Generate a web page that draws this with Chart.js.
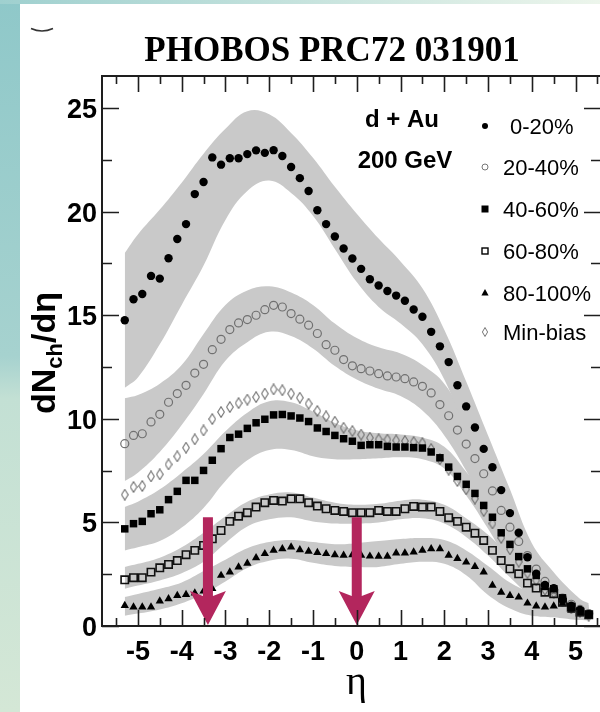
<!DOCTYPE html>
<html>
<head>
<meta charset="utf-8">
<script src="https://cdn.jsdelivr.net/npm/chart.js@4.4.1/dist/chart.umd.min.js"></script>
<style>
  html, body { margin: 0; padding: 0; width: 600px; height: 712px; overflow: hidden; background: #fff; }
  #box { position: relative; width: 612px; height: 712px; }
</style>
</head>
<body>
<div id="box"><canvas id="dndeta" width="612" height="712"></canvas></div>
<script>
"use strict";
// pseudorapidity bin centres, shared by every centrality class
var eta = [-5.3, -5.1, -4.9, -4.7, -4.5, -4.3, -4.1, -3.9, -3.7, -3.5,
    -3.3, -3.1, -2.9, -2.7, -2.5, -2.3, -2.1, -1.9, -1.7, -1.5,
    -1.3, -1.1, -0.9, -0.7, -0.5, -0.3, -0.1, 0.1, 0.3, 0.5,
    0.7, 0.9, 1.1, 1.3, 1.5, 1.7, 1.9, 2.1, 2.3, 2.5,
    2.7, 2.9, 3.1, 3.3, 3.5, 3.7, 3.9, 4.1, 4.3, 4.5,
    4.7, 4.9, 5.1, 5.3];

var cent0to20 = [14.76, 15.77, 16.03, 16.90, 16.77, 17.75, 18.68, 19.40, 20.85, 21.43,
    22.62, 22.27, 22.58, 22.58, 22.78, 22.96, 22.84, 22.97, 22.69, 22.16,
    21.62, 21.00, 20.07, 19.40, 18.80, 18.22, 17.74, 17.24, 16.74, 16.44,
    16.17, 15.95, 15.70, 15.28, 14.93, 14.20, 13.50, 12.74, 11.62, 10.60,
    9.58, 8.55, 7.66, 6.56, 5.45, 4.50, 3.32, 2.52, 1.98, 1.82,
    1.26, 0.98, 0.77, 0.57];
var cent20to40 = [8.80, 9.20, 9.28, 9.85, 10.22, 10.80, 11.22, 11.62, 12.21, 12.63,
    13.34, 13.84, 14.31, 14.63, 14.79, 15.00, 15.27, 15.48, 15.40, 15.08,
    14.81, 14.52, 14.12, 13.58, 13.31, 12.86, 12.56, 12.42, 12.31, 12.18,
    12.07, 12.02, 11.94, 11.78, 11.57, 11.25, 10.69, 10.15, 9.46, 8.78,
    8.08, 7.35, 6.52, 5.58, 4.77, 4.08, 3.40, 2.75, 2.15, 1.75,
    1.35, 1.05, 0.80, 0.60];
var cent40to60 = [4.69, 4.94, 5.05, 5.42, 5.61, 6.10, 6.50, 7.03, 7.03, 7.51,
    8.00, 8.56, 9.10, 9.26, 9.54, 9.81, 9.98, 10.19, 10.21, 10.14,
    10.04, 9.87, 9.56, 9.39, 9.20, 9.04, 8.92, 8.72, 8.75, 8.75,
    8.67, 8.64, 8.64, 8.61, 8.59, 8.40, 8.12, 7.67, 7.22, 6.84,
    6.40, 5.82, 5.25, 4.50, 3.94, 3.35, 2.76, 2.44, 1.91, 1.80,
    1.36, 0.91, 0.72, 0.56];
var cent60to80 = [2.23, 2.33, 2.33, 2.60, 2.81, 2.97, 3.16, 3.44, 3.65, 3.89,
    4.21, 4.61, 5.05, 5.30, 5.47, 5.74, 5.95, 6.06, 6.03, 6.14,
    6.14, 5.95, 5.79, 5.66, 5.58, 5.53, 5.47, 5.47, 5.47, 5.58,
    5.53, 5.53, 5.66, 5.77, 5.74, 5.74, 5.53, 5.23, 5.05, 4.77,
    4.48, 4.13, 3.65, 3.16, 2.76, 2.52, 2.07, 1.83, 1.63, 1.56,
    1.15, 0.91, 0.67, 0.54];
var cent80to100 = [0.99, 0.91, 0.91, 0.91, 1.20, 1.31, 1.47, 1.52, 1.59, 1.68,
    1.80, 2.44, 2.60, 2.84, 3.03, 3.29, 3.49, 3.65, 3.73, 3.81,
    3.68, 3.60, 3.54, 3.49, 3.44, 3.41, 3.44, 3.41, 3.37, 3.36,
    3.36, 3.52, 3.52, 3.57, 3.65, 3.73, 3.73, 3.41, 3.25, 3.08,
    2.87, 2.60, 1.96, 1.63, 1.47, 1.39, 1.10, 0.96, 0.91, 0.96,
    1.07, 0.75, 0.59, 0.46];
var minBias = [6.34, 6.71, 6.76, 7.22, 7.32, 7.80, 8.19, 8.61, 9.01, 9.44,
    9.99, 10.33, 10.57, 10.76, 10.93, 11.05, 11.22, 11.42, 11.38, 11.22,
    11.02, 10.73, 10.38, 10.12, 9.86, 9.57, 9.41, 9.24, 9.09, 9.01,
    9.00, 8.96, 8.93, 8.88, 8.83, 8.55, 8.05, 7.55, 7.00, 6.60,
    6.15, 5.55, 4.95, 4.25, 3.70, 3.10, 2.55, 2.20, 1.75, 1.60,
    1.20, 0.85, 0.68, 0.50];

// systematic error bands (upper / lower edge) on a coarser eta grid
var bandEta = [-5.3, -5.0, -4.5, -4.0, -3.5, -3.0, -2.5, -2.0, -1.5, -1.0, -0.5, 0.0,
    0.5, 1.0, 1.5, 2.0, 2.5, 3.0, 3.5, 4.0, 4.5, 5.0, 5.3];
var band0to20Hi = [18.0, 18.9, 20.1, 21.4, 22.8, 24.0, 24.85, 24.7, 23.8, 22.6, 21.2, 19.9,
    18.7, 17.6, 16.3, 14.3, 11.8, 9.2, 6.6, 4.0, 2.6, 1.5, 1.0];
var band0to20Lo = [11.5, 12.0, 13.6, 15.5, 17.4, 19.6, 21.0, 21.5, 20.9, 19.8, 18.2, 16.6,
    15.4, 14.6, 13.6, 11.9, 9.4, 7.0, 4.4, 2.2, 1.2, 0.5, 0.3];
var band20to40Hi = [11.0, 11.15, 11.7, 12.6, 14.1, 15.5, 16.2, 16.4, 16.1, 15.5, 14.6, 13.9,
    13.45, 13.15, 12.6, 11.7, 9.9, 7.9, 5.8, 3.9, 2.4, 1.3, 0.9];
var band20to40Lo = [7.0, 7.4, 8.4, 9.7, 11.2, 12.8, 13.7, 14.2, 14.0, 13.4, 12.55, 11.9,
    11.45, 11.1, 10.4, 9.2, 7.5, 5.6, 3.9, 2.5, 1.4, 0.7, 0.45];
var band40to60Hi = [5.75, 6.0, 6.6, 7.4, 8.3, 9.4, 10.3, 10.85, 10.8, 10.35, 9.8, 9.45,
    9.3, 9.25, 9.1, 8.65, 7.45, 6.1, 4.6, 3.3, 2.2, 1.3, 0.9];
var band40to60Lo = [3.65, 3.8, 4.1, 4.75, 5.7, 7.0, 8.0, 8.5, 8.5, 8.2, 8.05, 8.05,
    8.1, 8.15, 8.05, 7.6, 6.3, 4.7, 3.0, 1.9, 1.2, 0.6, 0.4];
var band60to80Hi = [2.85, 3.0, 3.3, 3.8, 4.5, 5.3, 6.0, 6.35, 6.45, 6.2, 5.95, 5.85,
    5.9, 6.05, 6.1, 5.85, 5.2, 4.4, 3.4, 2.5, 1.85, 1.35, 1.1];
var band60to80Lo = [1.8, 1.95, 2.2, 2.55, 3.1, 4.0, 4.8, 5.15, 5.25, 5.05, 4.95, 4.95,
    5.0, 5.15, 5.2, 4.95, 4.3, 3.4, 2.35, 1.4, 0.85, 0.45, 0.35];
var band80to100Hi = [1.4, 1.55, 1.8, 2.1, 2.65, 3.2, 3.75, 4.05, 4.15, 4.05, 3.95, 4.0,
    4.1, 4.2, 4.25, 4.15, 3.65, 2.9, 2.1, 1.6, 1.25, 1.05, 0.9];
var band80to100Lo = [0.5, 0.6, 0.8, 1.1, 1.55, 2.15, 2.8, 3.15, 3.25, 3.05, 2.9, 2.85,
    2.85, 3.0, 3.1, 3.0, 2.45, 1.5, 0.85, 0.5, 0.42, 0.3, 0.27];

var legendLabels = ["0-20%", "20-40%", "40-60%", "60-80%", "80-100%", "Min-bias"];
var xTickLabels = [-5, -4, -3, -2, -1, 0, 1, 2, 3, 4, 5];
var yTickLabels = [0, 5, 10, 15, 20, 25];
var arrowEta = [-3.4, 0];
var arrowFrom = 5.25;
var arrowTo = 0.05;

var bandGrey = '#c9c9c9';
var arrowRed = '#b3265d';

function pts(xs, ys) {
    return xs.map(function (x, i) { return {x: x, y: ys[i]}; });
}

// narrow open diamond used for the min-bias points
function diamondMark(w, h, color, lw) {
    var c = document.createElement('canvas');
    c.width = w;
    c.height = h;
    var g = c.getContext('2d');
    g.strokeStyle = color;
    g.lineWidth = lw;
    g.beginPath();
    g.moveTo(w / 2, 0.7);
    g.lineTo(w - 0.7, h / 2);
    g.lineTo(w / 2, h - 0.7);
    g.lineTo(0.7, h / 2);
    g.closePath();
    g.stroke();
    return c;
}

function markers(label, ys, style, radius, fill, stroke, bw, order) {
    return {
        label: label, data: pts(eta, ys), showLine: false, order: order,
        pointStyle: style, pointRadius: radius, pointHoverRadius: radius,
        pointBackgroundColor: fill, pointBorderColor: stroke, pointBorderWidth: bw
    };
}

function bandPair(lo, hi) {
    var base = {showLine: true, borderWidth: 0, pointRadius: 0, tension: 0.4, order: 20,
        borderColor: bandGrey, backgroundColor: bandGrey};
    return [
        Object.assign({}, base, {data: pts(bandEta, lo), fill: false}),
        Object.assign({}, base, {data: pts(bandEta, hi), fill: '-1'})
    ];
}

var datasets = [
    markers(legendLabels[2], cent40to60, 'rect', 5.3, '#000', '#000', 0, 1),
    markers(legendLabels[0], cent0to20, 'circle', 4.2, '#000', '#000', 0, 2),
    markers(legendLabels[3], cent60to80, 'rect', 5.2, 'rgba(0,0,0,0)', '#111', 1.6, 3),
    markers(legendLabels[4], cent80to100, 'triangle', 4.8, '#000', '#000', 0, 4),
    markers(legendLabels[1], cent20to40, 'circle', 4, 'rgba(0,0,0,0)', '#707070', 1.2, 5),
    markers(legendLabels[5], minBias, diamondMark(8, 12, '#707070', 1.1), 5, 'rgba(0,0,0,0)', '#707070', 1, 6)
].concat(bandPair(band0to20Lo, band0to20Hi), bandPair(band20to40Lo, band20to40Hi),
    bandPair(band40to60Lo, band40to60Hi), bandPair(band60to80Lo, band60to80Hi),
    bandPair(band80to100Lo, band80to100Hi));

function legendMark(ctx, i, x, y) {
    ctx.save();
    ctx.fillStyle = '#000';
    ctx.strokeStyle = '#000';
    ctx.lineWidth = 1;
    ctx.beginPath();
    if (i === 0) {
        ctx.arc(x, y, 3, 0, 2 * Math.PI);
        ctx.fill();
    } else if (i === 1) {
        ctx.strokeStyle = '#777';
        ctx.arc(x, y, 3, 0, 2 * Math.PI);
        ctx.stroke();
    } else if (i === 2) {
        ctx.fillRect(x - 3.5, y - 3.5, 7, 7);
    } else if (i === 3) {
        ctx.lineWidth = 1.4;
        ctx.strokeRect(x - 3, y - 3, 6, 6);
    } else if (i === 4) {
        ctx.moveTo(x, y - 4);
        ctx.lineTo(x + 3.6, y + 2.5);
        ctx.lineTo(x - 3.6, y + 2.5);
        ctx.closePath();
        ctx.fill();
    } else {
        ctx.strokeStyle = '#777';
        ctx.moveTo(x, y - 4.5);
        ctx.lineTo(x + 2.6, y);
        ctx.lineTo(x, y + 4.5);
        ctx.lineTo(x - 2.6, y);
        ctx.closePath();
        ctx.stroke();
    }
    ctx.restore();
}

var frame = {
    id: 'frame',
    beforeDraw: function (chart) {
        var ctx = chart.ctx;
        ctx.save();
        // slide background strips behind the white panel
        var side = ctx.createLinearGradient(0, 0, 0, 712);
        side.addColorStop(0, '#8fc8c9');
        side.addColorStop(0.5, '#a6d2cf');
        side.addColorStop(0.56, '#c3e0d4');
        side.addColorStop(1, '#d4e7d6');
        ctx.fillStyle = side;
        ctx.fillRect(0, 0, 612, 712);
        var top = ctx.createLinearGradient(0, 0, 612, 0);
        top.addColorStop(0, '#9fd0cf');
        top.addColorStop(1, '#eef6ec');
        ctx.fillStyle = top;
        ctx.fillRect(0, 0, 612, 4);
        ctx.fillStyle = '#fff';
        ctx.fillRect(20, 4, 600, 712);

        ctx.strokeStyle = '#333';
        ctx.lineWidth = 1.5;
        ctx.beginPath();
        ctx.moveTo(31, 28.5);
        ctx.quadraticCurveTo(42, 33.5, 53, 28.5);
        ctx.stroke();

        ctx.fillStyle = '#000';
        ctx.font = 'bold 35px "Liberation Serif", "Times New Roman", serif';
        ctx.textAlign = 'center';
        ctx.textBaseline = 'alphabetic';
        ctx.fillText('PHOBOS PRC72 031901', 332, 61);
        ctx.restore();
    },
    afterDatasetsDraw: function (chart) {
        var ctx = chart.ctx;
        var a = chart.chartArea;
        var xs = chart.scales.x;
        var ys = chart.scales.y;
        var i, v, px, py;
        ctx.save();

        // arrows marking the two eta positions
        ctx.fillStyle = arrowRed;
        arrowEta.forEach(function (e) {
            var x = xs.getPixelForValue(e);
            var y0 = ys.getPixelForValue(arrowFrom);
            var y1 = ys.getPixelForValue(arrowTo);
            var yh = y1 - 34;
            ctx.beginPath();
            ctx.moveTo(x - 5, y0);
            ctx.lineTo(x + 5, y0);
            ctx.lineTo(x + 5, yh + 5);
            ctx.lineTo(x + 18, yh);
            ctx.lineTo(x, y1);
            ctx.lineTo(x - 18, yh);
            ctx.lineTo(x - 5, yh + 5);
            ctx.closePath();
            ctx.fill();
        });

        // frame and inward ticks
        ctx.strokeStyle = '#1e1e1e';
        ctx.lineWidth = 2;
        ctx.strokeRect(a.left, a.top, a.right - a.left, a.bottom - a.top);
        ctx.lineWidth = 1.6;
        ctx.beginPath();
        for (v = -5.5; v <= 5.5; v += 0.5) {
            px = Math.round(xs.getPixelForValue(v)) + 0.5;
            var len = (v % 1 === 0) ? 16 : 8;
            ctx.moveTo(px, a.bottom);
            ctx.lineTo(px, a.bottom - len);
            ctx.moveTo(px, a.top);
            ctx.lineTo(px, a.top + len);
        }
        for (v = 0; v <= 25; v += 2.5) {
            py = Math.round(ys.getPixelForValue(v)) + 0.5;
            var ln = (v % 5 === 0) ? 17 : 10;
            ctx.moveTo(a.left, py);
            ctx.lineTo(a.left + ln, py);
            ctx.moveTo(a.right, py);
            ctx.lineTo(a.right - ln, py);
        }
        ctx.stroke();

        // tick labels
        ctx.fillStyle = '#000';
        ctx.font = 'bold 27px "Liberation Sans", Arial, sans-serif';
        ctx.textBaseline = 'alphabetic';
        ctx.textAlign = 'center';
        xTickLabels.forEach(function (t) {
            ctx.fillText(String(t), xs.getPixelForValue(t), a.bottom + 34);
        });
        ctx.textAlign = 'right';
        yTickLabels.forEach(function (t) {
            ctx.fillText(String(t), a.left - 5, ys.getPixelForValue(t) + 10);
        });

        // axis titles
        ctx.textAlign = 'center';
        ctx.font = '40px "Liberation Serif", "Times New Roman", serif';
        ctx.fillText('\u03b7', (a.left + a.right) / 2 + 5, 694);

        var parts = [
            {t: 'dN', f: 'bold 34px "Liberation Sans", Arial, sans-serif', dy: 0},
            {t: 'ch', f: 'bold 22px "Liberation Sans", Arial, sans-serif', dy: 7},
            {t: '/d\u03b7', f: 'bold 34px "Liberation Sans", Arial, sans-serif', dy: 0}
        ];
        var total = 0;
        parts.forEach(function (p) { ctx.font = p.f; p.w = ctx.measureText(p.t).width; total += p.w; });
        ctx.translate(55, 353);
        ctx.rotate(-Math.PI / 2);
        ctx.textAlign = 'left';
        var cx = -total / 2;
        parts.forEach(function (p) {
            ctx.font = p.f;
            ctx.fillText(p.t, cx, p.dy);
            cx += p.w;
        });
        ctx.setTransform(1, 0, 0, 1, 0, 0);

        // collision system and legend
        ctx.textAlign = 'center';
        ctx.font = 'bold 24px "Liberation Sans", Arial, sans-serif';
        ctx.fillText('d + Au', 402, 127);
        ctx.fillText('200 GeV', 405, 168);
        ctx.textAlign = 'left';
        ctx.font = '22px "Liberation Sans", Arial, sans-serif';
        var rows = [126, 167, 209, 251, 293, 332];
        for (i = 0; i < legendLabels.length; i++) {
            legendMark(ctx, i, 485, rows[i]);
            ctx.fillText(legendLabels[i], i === 0 ? 510 : 503, rows[i] + 8);
        }
        ctx.restore();
    }
};

new Chart(document.getElementById('dndeta').getContext('2d'), {
    type: 'scatter',
    data: {datasets: datasets},
    options: {
        responsive: false,
        animation: false,
        events: [],
        layout: {padding: {left: 102, right: 11, top: 76, bottom: 86}},
        plugins: {legend: {display: false}, tooltip: {enabled: false}},
        scales: {
            x: {type: 'linear', min: -5.82, max: 5.58, display: false},
            y: {type: 'linear', min: 0, max: 26.55, display: false}
        }
    },
    plugins: [frame]
});
</script>
</body>
</html>
